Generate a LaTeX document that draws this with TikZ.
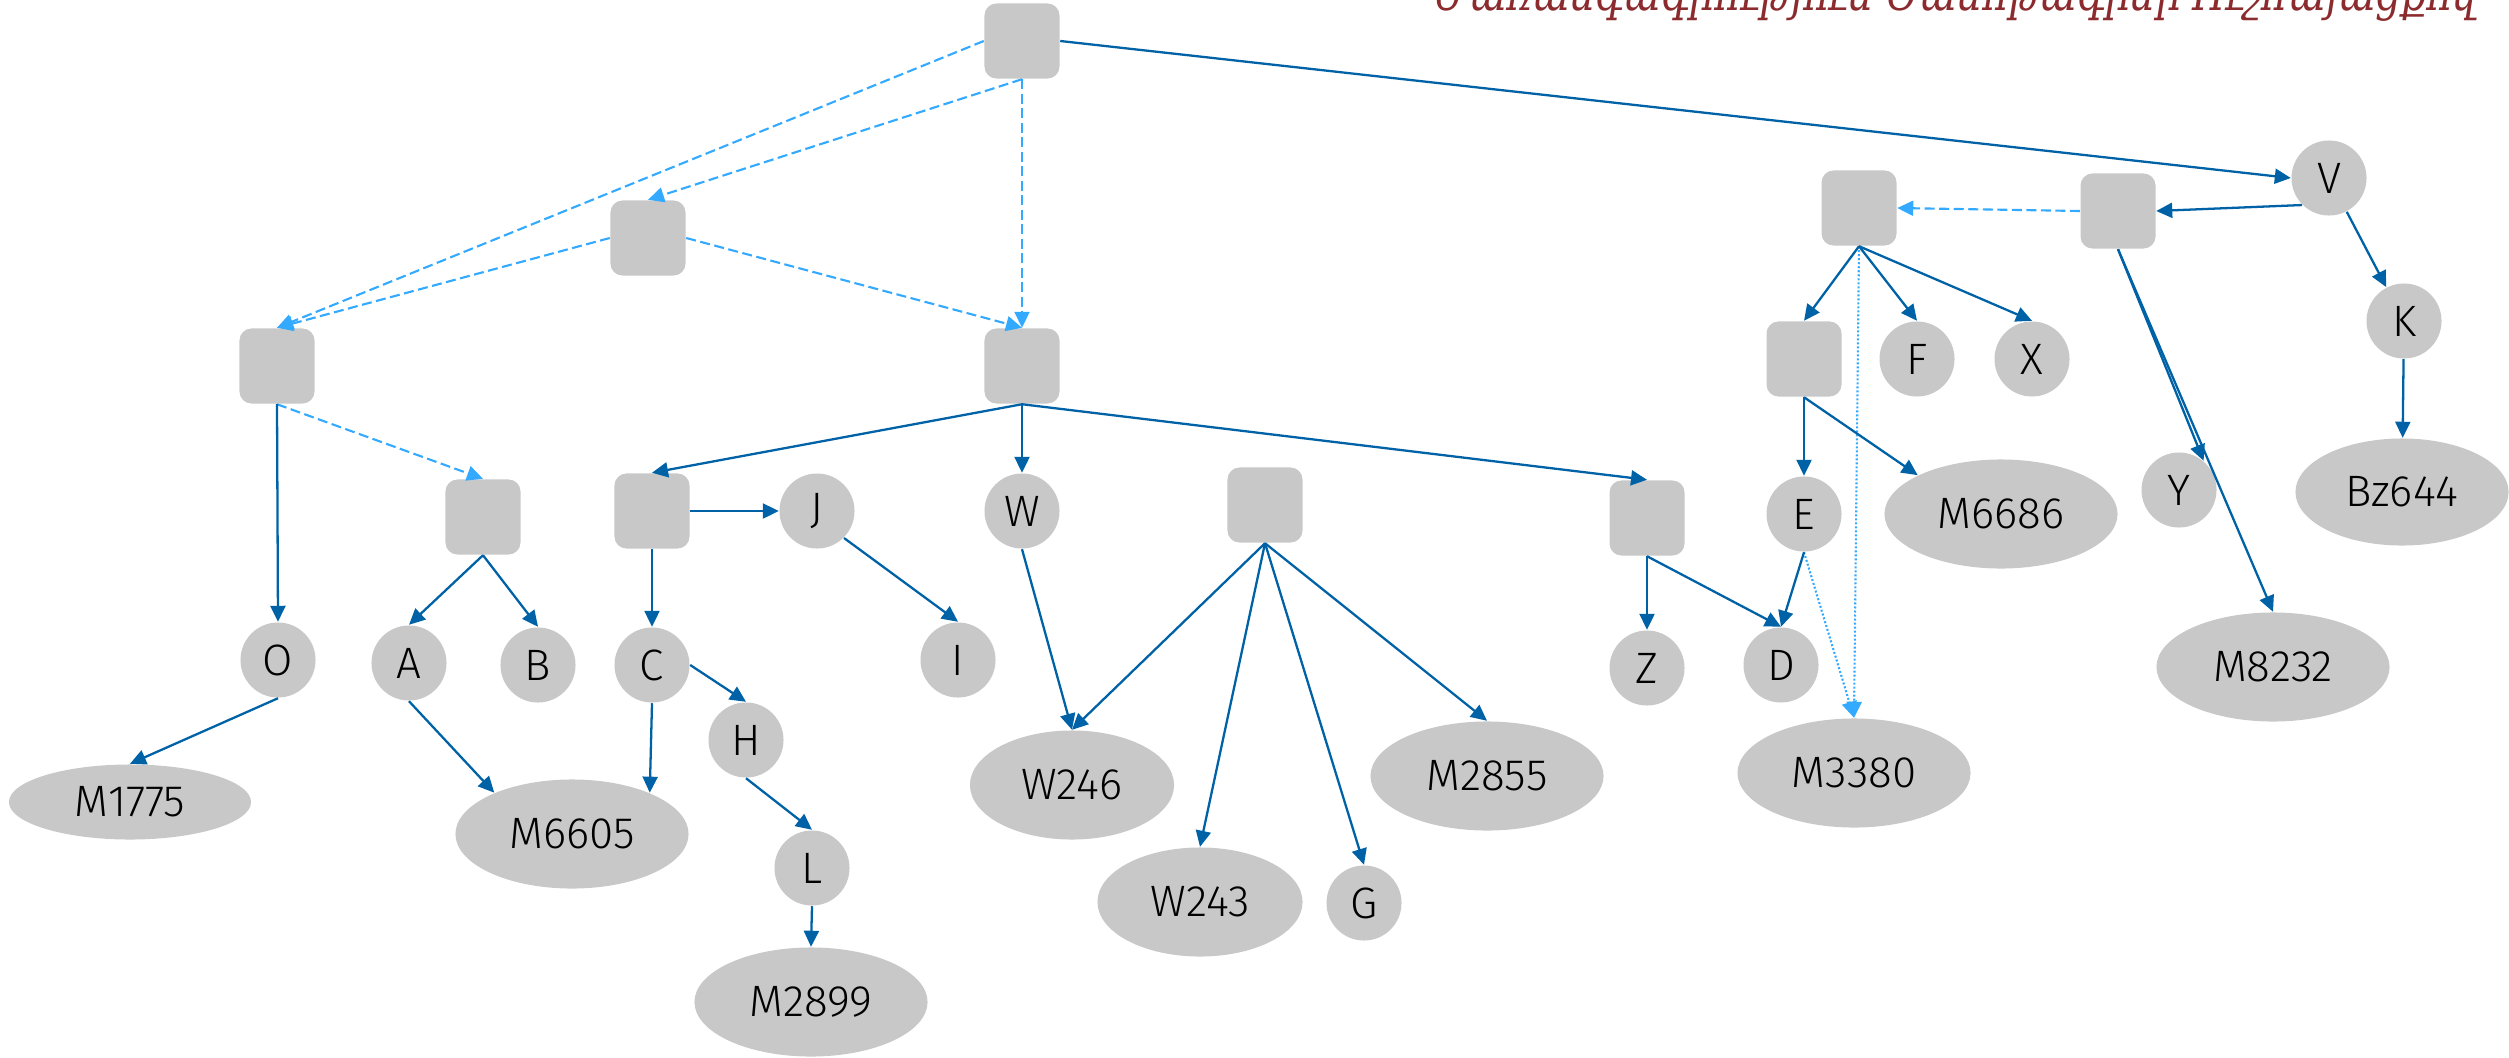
\documentclass[tikz,border=0pt]{standalone}
\usepackage{fontspec}
\setmainfont{Fira Sans Light}
\newfontfamily\armfont{DejaVu Serif}
\usetikzlibrary{shapes.geometric,arrows.meta}
\definecolor{nodegray}{HTML}{C8C8C8}
\definecolor{linkblue}{HTML}{0062A6}
\definecolor{hintblue}{HTML}{33AAFF}
\definecolor{titlered}{HTML}{8B2B2E}
\tikzset{
  box/.style={rectangle, rounded corners=0.12cm, fill=nodegray, minimum size=0.75cm, inner sep=0pt},
  ring/.style={circle, fill=nodegray, minimum size=0.75cm, inner sep=0pt},
  oval/.style={ellipse, fill=nodegray, minimum width=2.33cm, minimum height=1.09cm, inner sep=0pt},
  tip/.style={-{Triangle[length=0.16cm,width=0.15cm]}},
  link/.style={draw=linkblue, line width=0.65pt, tip},
  hint/.style={draw=hintblue, line width=0.6pt, dash pattern=on 0.1cm off 0.045cm, tip},
  faint/.style={draw=hintblue, line width=0.6pt, dash pattern=on 0.02cm off 0.02cm, tip},
  lbl/.style={font=\fontsize{12.5}{14}\selectfont}
}
\begin{document}
\begin{tikzpicture}[x=0.01cm, y=-0.01cm, every node/.append style={lbl}]
\useasboundingbox (0,0) rectangle (2509,1057);

% heading
\node[anchor=base west, inner sep=0pt, text=titlered, font=\armfont\itshape\fontsize{14}{16}\selectfont] (title) at (1436,10)
  {\resizebox{10.4cm}{\height}{Ժառանգագրություն Ծանոթագրեր Ուշհայացքով}};

% unlabelled group boxes
\node[box] (R0) at (1022,41) {};
\node[box] (R1) at (648,238) {};
\node[box] (R2) at (277,366) {};
\node[box] (R3) at (1022,366) {};
\node[box] (R4) at (483,517) {};
\node[box] (R5) at (652,511) {};
\node[box] (R6) at (1265,505) {};
\node[box] (R7) at (1647,518) {};
\node[box] (R8) at (1859,208) {};
\node[box] (R9) at (2118,211) {};
\node[box] (R10) at (1804,359) {};

% lettered nodes
\node[ring] (V) at (2329,178) {V};
\node[ring] (K) at (2404,321) {K};
\node[ring] (Y) at (2179,490) {Y};
\node[ring] (F) at (1917,359) {F};
\node[ring] (X) at (2032,359) {X};
\node[ring] (E) at (1804,514) {E};
\node[ring] (D) at (1781,665) {D};
\node[ring] (Z) at (1647,668) {Z};
\node[ring] (W) at (1022,511) {W};
\node[ring] (J) at (817,511) {J};
\node[ring] (I) at (958,660) {I};
\node[ring] (O) at (278,660) {O};
\node[ring] (A) at (409,663) {A};
\node[ring] (B) at (538,665) {B};
\node[ring] (C) at (652,665) {C};
\node[ring] (H) at (746,740) {H};
\node[ring] (L) at (812,868) {L};
\node[ring] (G) at (1364,903) {G};

% manuscript sigla
\node[oval, minimum width=2.42cm, minimum height=0.75cm] (M1775) at (130,802) {M1775};
\node[oval] (M6605) at (572,834) {M6605};
\node[oval] (M2899) at (811,1002) {M2899};
\node[oval, minimum width=2.04cm] (W246) at (1072,785) {W246};
\node[oval, minimum width=2.05cm] (W243) at (1200,902) {W243};
\node[oval] (M2855) at (1487,776) {M2855};
\node[oval] (M3380) at (1854,773) {M3380};
\node[oval] (M6686) at (2001,514) {M6686};
\node[oval] (M8232) at (2273,667) {M8232};
\node[oval, minimum width=2.13cm, minimum height=1.07cm] (Bz644) at (2402,492) {Bz644};

% dashed links between group boxes
\draw[hint] (R0.south) -- (R1.north);
\draw[hint] (R0.west) -- (R2.north);
\draw[hint] (R0.south) -- (R3.north);
\draw[hint] (R1.west) -- (R2.north);
\draw[hint] (R1.east) -- (R3.north);
\draw[hint] (R2.south) -- (R4.north);
\draw[hint] (R9.west) -- (R8.east);

% dotted links
\draw[faint] (R8.south) -- (M3380.north);
\draw[faint] (E.south) -- (M3380.north);

% solid links
\draw[link] (R0.east) -- (V.west);
\draw[link] (V.south west) -- (R9.east);
\draw[link] (V) -- (K);
\draw[link] (K) -- (Bz644);
\draw[link] (R9.south) -- (Y.50);
\draw[link] (R9.south) -- (M8232.north);
\draw[link] (R8.south) -- (R10.north);
\draw[link] (R8.south) -- (F.north);
\draw[link] (R8.south) -- (X.north);
\draw[link] (R10.south) -- (E.north);
\draw[link] (R10.south) -- (M6686.155);
\draw[link] (E.south) -- (D.north);
\draw[link] (R7.south) -- (Z.north);
\draw[link] (R7.south) -- (D.north);
\draw[link] (R3.south) -- (R5.north);
\draw[link] (R3.south) -- (W.north);
\draw[link] (R3.south) -- (R7.north);
\draw[link] (R5.east) -- (J.west);
\draw[link] (R5.south) -- (C.north);
\draw[link] (J.south east) -- (I.north);
\draw[link] (W.south) -- (W246.north);
\draw[link] (R6.south) -- (W246.north);
\draw[link] (R6.south) -- (W243.north);
\draw[link] (R6.south) -- (G.north);
\draw[link] (R6.south) -- (M2855.north);
\draw[link] (C.east) -- (H.north);
\draw[link] (C.south) -- (M6605.28);
\draw[link] (A.south) -- (M6605.152);
\draw[link] (H.south) -- (L.north);
\draw[link] (L.south) -- (M2899.north);
\draw[link] (R2.south) -- (O.north);
\draw[link] (O.south) -- (M1775.north);
\draw[link] (R4.south) -- (A.north);
\draw[link] (R4.south) -- (B.north);
\end{tikzpicture}
\end{document}
